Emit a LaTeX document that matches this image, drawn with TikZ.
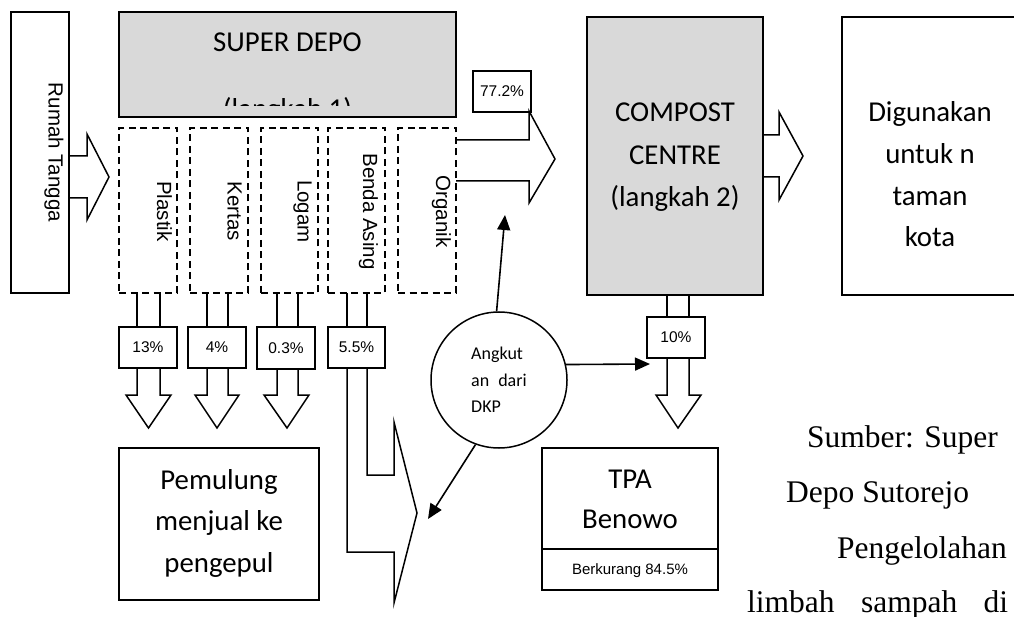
\documentclass[tikz,border=0pt]{standalone}
\usepackage{fontspec}
\setmainfont{Liberation Serif}
\newfontfamily\calfont{Carlito}
\newfontfamily\arfont{Liberation Sans}
\usetikzlibrary{arrows.meta}
\definecolor{boxgray}{HTML}{D9D9D9}
\begin{document}
\begin{tikzpicture}[x=1pt,y=-1pt,
  ln/.style={line width=1.5pt},
  bx/.style={draw, ln, inner sep=0pt, minimum width=#1},
  bx/.default=58pt,
  dbox/.style={draw, line width=1.4pt, dash pattern=on 7pt off 4.5pt, inner sep=0pt, minimum height=165pt, minimum width=#1},
  dbox/.default=58pt,
  pbox/.style={draw, ln, fill=white, inner sep=0pt, minimum width=#1, minimum height=41pt, font=\arfont\fontsize{15.5}{18}\selectfont},
  pbox/.default=58pt,
  rot/.style={rotate=-90, anchor=base, inner sep=0pt, font=\arfont\fontsize{20.5}{24}\selectfont},
  big/.style={anchor=base, inner sep=0pt, font=\calfont\fontsize{28.8}{41}\selectfont},
  tms/.style={anchor=base west, inner sep=0pt, font=\fontsize{31.5}{40}\selectfont},
  blk/.style={ln, line join=miter},
  thin/.style={line width=1.6pt, -{Triangle[length=15pt,width=13pt]}}
]
\useasboundingbox (0,0) rectangle (1014,617);
\clip (0,0) rectangle (1014,617);

% Rumah Tangga
\node[bx, minimum width=58pt, minimum height=281pt] (rumah) at (40,152.5) {};
\node[rot] (trumah) at (48.5,152.5) {Rumah Tangga};
\draw[blk] (69,156) -- (87,156) -- (87,134) -- (109,177) -- (87,220) -- (87,198) -- (69,198);

% Super depo
\node[bx, fill=boxgray, minimum width=337pt, minimum height=105pt] (depo) at (287.5,64.5) {};
\node[big] (tdepo) at (287.5,51.5) {SUPER DEPO};
\begin{scope}
  \clip (119,12) rectangle (456,105.5);
  \node[big] (tdepo2) at (287.5,119) {(langkah 1)};
\end{scope}

% sorting columns
\node[dbox] (plastik) at (148,210.5) {};
\node[dbox] (kertas) at (219,210.5) {};
\node[dbox=57pt] (logam) at (289.5,210.5) {};
\node[dbox=57pt] (benda) at (356.5,210.5) {};
\node[dbox] (organik) at (427,210.5) {};
\node[rot] (tplastik) at (157,211.5) {Plastik};
\node[rot] (tkertas) at (227.5,211.5) {Kertas};
\node[rot] (tlogam) at (297.5,211.5) {Logam};
\node[rot] (tbenda) at (363,211.5) {Benda Asing};
\node[rot] (torganik) at (436,211.5) {Organik};

% percentage boxes
\node[pbox] (p13) at (148,347.5) {13\%};
\node[pbox] (p4) at (217,347.5) {4\%};
\node[pbox, minimum height=42pt] (p03) at (286,348) {0.3\%};
\node[pbox=57pt] (p55) at (356.5,347.5) {5.5\%};
\node[pbox] (p77) at (502,91.5) {77.2\%};
\node[pbox] (p10) at (676,337.5) {10\%};

% down arrows Plastik
\draw[blk] (137,293) -- (137,327) (160,293) -- (160,327);
\draw[blk] (137,368) -- (137,395) -- (126,395) -- (148.5,428) -- (171,395) -- (160,395) -- (160,368);
% Kertas
\draw[blk] (207,293) -- (207,327) (228,293) -- (228,327);
\draw[blk] (207,368) -- (207,395) -- (195,395) -- (217,428) -- (239,395) -- (228,395) -- (228,368);
% Logam
\draw[blk] (277,293) -- (277,327) (298,293) -- (298,327);
\draw[blk] (277,369) -- (277,395) -- (264,395) -- (287,428) -- (309,395) -- (298,395) -- (298,369);
% Benda asing (bent arrow)
\draw[blk] (347,293) -- (347,327) (367,293) -- (367,327);
\draw[blk] (347,368) -- (347,552) -- (394,552) -- (394,603) -- (417,513) -- (394,422) -- (394,475) -- (367,475) -- (367,368);
% Organik arrow
\draw[blk] (456,140) -- (529,140) -- (529,111) -- (555,159) -- (529,203) -- (529,181) -- (456,181);

% Compost centre
\node[bx, fill=boxgray, minimum width=176pt, minimum height=278pt] (compost) at (675,156) {};
\node[big] (c1) at (675,122) {COMPOST};
\node[big] (c2) at (675,164.5) {CENTRE};
\node[big] (c3) at (675,207) {(langkah 2)};
\draw[blk] (763,135) -- (779,135) -- (779,112) -- (803,156) -- (779,200) -- (779,177) -- (763,177);

% Digunakan
\node[bx, minimum width=176pt, minimum height=278pt] (guna) at (930,156) {};
\node[big] (g1) at (930,122) {Digunakan};
\node[big] (g2) at (930,164) {untuk n};
\node[big] (g3) at (930,205.5) {taman};
\node[big] (g4) at (930,247) {kota};

% 10% arrow
\draw[blk] (667,295) -- (667,317) (689,295) -- (689,317);
\draw[blk] (667,358) -- (667,395) -- (656,395) -- (678,428) -- (701,395) -- (689,395) -- (689,358);

% Pemulung
\node[bx, minimum width=200pt, minimum height=152pt] (pemulung) at (219,524) {};
\node[big] (m1) at (219,489) {Pemulung};
\node[big] (m2) at (219,530.5) {menjual ke};
\node[big] (m3) at (219,572) {pengepul};

% TPA
\node[bx, minimum width=176pt, minimum height=142pt] (tpa) at (630,519) {};
\draw[ln] ([yshift=42pt]tpa.south west) -- ([yshift=42pt]tpa.south east);
\node[big] (t1) at (630,488.5) {TPA};
\node[big] (t2) at (630,528.5) {Benowo};
\node[anchor=base, inner sep=0pt, font=\arfont\fontsize{15}{18}\selectfont] (t3) at (630,574.5) {Berkurang 84.5\%};

% DKP circle
\node[circle, draw, ln, minimum size=136pt, inner sep=0pt, align=left,
      font=\calfont\fontsize{18}{26.5}\selectfont] (dkp) at (499,380) {Angkut\\an\hspace{9pt}dari\\DKP};
\coordinate (tipup) at (505,215);
\coordinate (tipright) at (650,364);
\coordinate (tipdown) at (428,519);
\draw[thin] (dkp.92.5) -- (tipup);
\draw[thin] (dkp.13) -- (tipright);
\draw[thin] (dkp.250) -- (tipdown);

% source text
\node[tms] (s1) at (807,447) {Sumber: Super};
\node[tms] (s2) at (786,502.5) {Depo Sutorejo};
\node[tms] (s3) at (837,558) {Pengelolahan};
\node[tms] (s4) at (747,612) {\makebox[261pt][s]{limbah sampah di}};
\end{tikzpicture}
\end{document}
